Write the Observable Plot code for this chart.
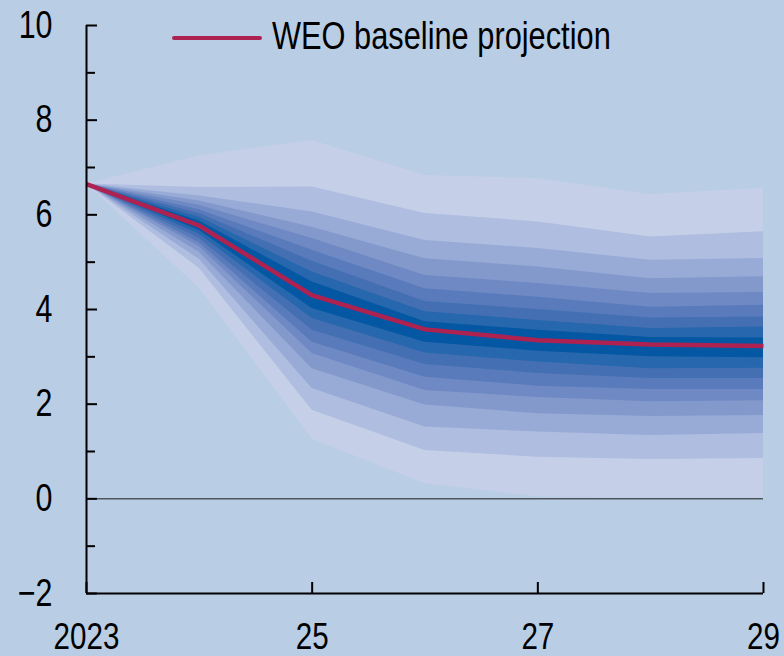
<!DOCTYPE html>
<html>
<head>
<meta charset="utf-8">
<script src="https://cdn.jsdelivr.net/npm/d3@7"></script>
<script src="https://cdn.jsdelivr.net/npm/@observablehq/plot@0.6"></script>
<style>
html, body { margin: 0; padding: 0; background: #b9cde5; }
#wrap { position: relative; width: 784px; height: 656px; overflow: hidden; }
#legend-swatch { position: absolute; left: 172px; top: 36px; width: 90px; height: 4px; background: #ae2252; border-radius: 2px; }
#legend-text { position: absolute; left: 272px; top: 17px; font-family: "Liberation Sans Narrow", "Arial Narrow", "Liberation Sans", Arial, sans-serif; font-size: 38px; line-height: 38px; color: #000; white-space: nowrap; transform: scaleX(0.81); transform-origin: 0 0; }
</style>
</head>
<body>
<div id="wrap">
  <div id="chart"></div>
  <div id="legend-swatch"></div>
  <div id="legend-text">WEO baseline projection</div>
</div>
<script>
// ---- Data ----
const years = [2023, 2024, 2025, 2026, 2027, 2028, 2029];
const baseline = [6.65, 5.77, 4.30, 3.58, 3.35, 3.26, 3.23];

// upper band edges
const p95 = [6.65, 7.25, 7.57, 6.83, 6.77, 6.43, 6.56];
const p90 = [6.65, 6.58, 6.59, 6.03, 5.85, 5.53, 5.64];
const p85 = [6.65, 6.40, 6.06, 5.46, 5.29, 5.04, 5.08];
const p80 = [6.65, 6.29, 5.74, 5.07, 4.90, 4.65, 4.69];
const p75 = [6.65, 6.20, 5.50, 4.72, 4.55, 4.34, 4.36];
const p70 = [6.65, 6.11, 5.25, 4.44, 4.26, 4.05, 4.09];
const p65 = [6.65, 6.03, 5.02, 4.17, 4.00, 3.82, 3.84];
const p60 = [6.65, 5.95, 4.79, 3.95, 3.77, 3.60, 3.63];
const p55 = [6.65, 5.87, 4.58, 3.74, 3.56, 3.41, 3.40];
// lower band edges
const p45 = [6.65, 5.67, 4.02, 3.31, 3.12, 3.00, 2.98];
const p40 = [6.65, 5.59, 3.81, 3.08, 2.89, 2.75, 2.76];
const p35 = [6.65, 5.50, 3.56, 2.84, 2.65, 2.54, 2.54];
const p30 = [6.65, 5.41, 3.31, 2.57, 2.38, 2.31, 2.31];
const p25 = [6.65, 5.33, 3.07, 2.29, 2.14, 2.05, 2.07];
const p20 = [6.65, 5.21, 2.75, 1.98, 1.80, 1.74, 1.76];
const p15 = [6.65, 5.06, 2.33, 1.52, 1.41, 1.34, 1.38];
const p10 = [6.65, 4.87, 1.87, 1.02, 0.88, 0.83, 0.85];
const p5  = [6.65, 4.45, 1.26, 0.32, 0.04, 0.02, 0.02];

const yMajorTicks = [-2, 0, 2, 4, 6, 8, 10];
const yMajorLabels = ["\u22122", "0", "2", "4", "6", "8", "10"];
const yMinorTicks = [-1, 1, 3, 5, 7, 9];
const xTicks = [2023, 2025, 2027, 2029];
const xLabels = ["2023", "25", "27", "29"];

// ---- Styles ----
const bandColors = ["#0457a3", "#2767ad", "#4470b3", "#5a7bbb", "#6e89c3", "#8399cc", "#98abd6", "#aebde0", "#c5cfe7"];
const lineColor = "#ae2252";
const font = '"Liberation Sans Narrow", "Arial Narrow", "Liberation Sans", Arial, sans-serif';

const uppers = [p55, p60, p65, p70, p75, p80, p85, p90, p95];
const lowers = [p45, p40, p35, p30, p25, p20, p15, p10, p5];
const bands = uppers.map((u, i) => years.map((year, j) => ({year, lo: lowers[i][j], hi: u[j]})));
const bandMarks = bands.map((b, i) => Plot.areaY(b, {x: "year", y1: "lo", y2: "hi", fill: bandColors[i], curve: "linear"})).reverse();
const lineData = years.map((year, i) => ({year, v: baseline[i]}));

const chart = Plot.plot({
  width: 784,
  height: 656,
  marginLeft: 86,
  marginRight: 21,
  marginTop: 25,
  marginBottom: 63,
  style: {background: "#b9cde5", fontFamily: font, color: "#000", overflow: "visible"},
  x: {domain: [2023, 2029]},
  y: {domain: [-2, 10]},
  marks: [
    ...bandMarks,
    Plot.ruleY([0], {stroke: "#1a1a1a", strokeWidth: 1}),
    Plot.lineY(lineData, {x: "year", y: "v", stroke: lineColor, strokeWidth: 4.5, strokeLinejoin: "round", strokeLinecap: "butt"}),
    Plot.axisY(yMajorTicks, {tickSize: 0, tickPadding: 34, fontSize: 38, label: null, tickFormat: (d) => yMajorLabels[yMajorTicks.indexOf(d)]}),
    Plot.axisY(yMajorTicks, {tickSize: -11, strokeWidth: 2, label: null, tickFormat: () => ""}),
    Plot.axisY(yMinorTicks, {tickSize: -9, strokeWidth: 2, label: null, tickFormat: () => ""}),
    Plot.axisX(xTicks, {tickSize: 0, tickPadding: 29, fontSize: 37, label: null, tickFormat: (d) => xLabels[xTicks.indexOf(d)]}),
    Plot.axisX(xTicks, {tickSize: -11, strokeWidth: 2, label: null, tickFormat: () => ""}),
    Plot.ruleX([2023], {stroke: "#000", strokeWidth: 2}),
    Plot.ruleY([-2], {stroke: "#000", strokeWidth: 2})
  ]
});
document.getElementById("chart").appendChild(chart);

// Condense the axis labels to mimic the narrow typeface of the reference
chart.querySelectorAll("text").forEach((t) => {
  if (!t.textContent) return;
  const len = t.getComputedTextLength();
  if (len > 0) {
    t.setAttribute("textLength", (len * 0.8).toFixed(2));
    t.setAttribute("lengthAdjust", "spacingAndGlyphs");
  }
});
</script>
</body>
</html>
